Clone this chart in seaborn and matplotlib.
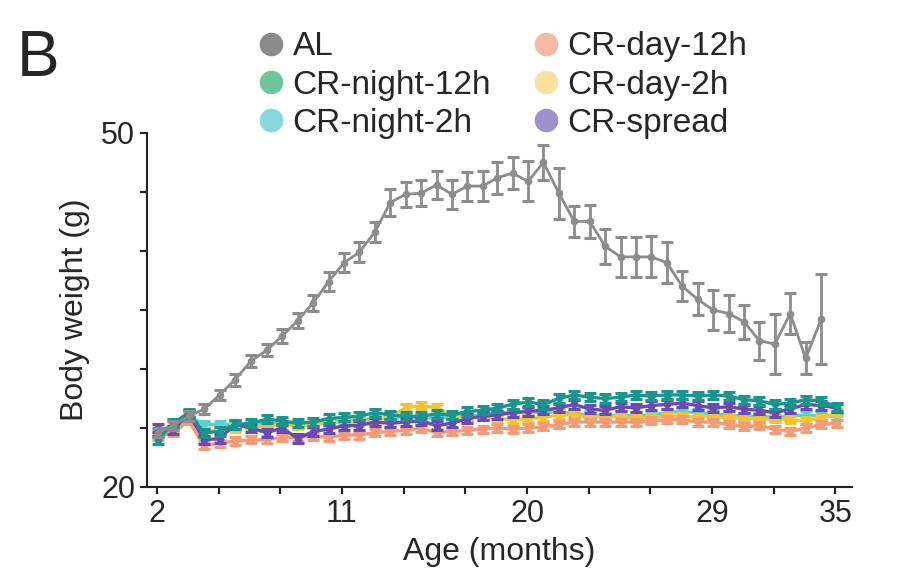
import matplotlib
matplotlib.use('Agg')
import matplotlib.pyplot as plt
from matplotlib.lines import Line2D
import seaborn as sns
import pandas as pd

# ages (months) of each weighing
ages = [2.05, 2.8, 3.55, 4.3, 5.05, 5.8, 6.6, 7.35, 8.1, 8.85, 9.6, 10.35, 11.1, 11.85,
        12.6, 13.35, 14.1, 14.85, 15.6, 16.35, 17.1, 17.85, 18.55, 19.3, 20.05, 20.8,
        21.55, 22.3, 23.05, 23.8, 24.55, 25.3, 26.05, 26.8, 27.55, 28.3, 29.05, 29.8,
        30.55, 31.3, 32.05, 32.8, 33.55, 34.3, 35.05]

# mean body weight (g); AL has no value at the last age
al = [24.6, 25.2, 26.0, 26.6, 27.8, 29.1, 30.7, 31.6, 32.8, 34.1, 35.6, 37.4, 39.0, 39.9,
      41.6, 44.1, 44.8, 44.9, 45.6, 44.8, 45.5, 45.5, 46.2, 46.6, 45.9, 47.5, 44.9, 42.5,
      42.5, 40.4, 39.5, 39.5, 39.5, 39.0, 37.0, 35.9, 35.0, 34.7, 34.0, 32.4, 32.1, 34.7,
      30.9, 34.2]
al_sem = [0.4, 0.4, 0.4, 0.45, 0.45, 0.5, 0.52, 0.54, 0.56, 0.61, 0.68, 0.8, 0.82, 0.85,
          0.82, 1.13, 1.04, 1.13, 1.16, 1.2, 1.23, 1.27, 1.37, 1.37, 1.69, 1.48, 2.15, 1.3,
          1.41, 1.47, 1.72, 1.72, 1.74, 1.72, 1.27, 1.35, 1.72, 1.6, 1.44, 1.6, 2.54, 1.74,
          1.35, 3.81]

night_12h = [24.0, 25.4, 26.3, 24.6, 24.7, 25.3, 25.4, 25.75, 25.6, 25.4, 25.5, 25.8, 25.9,
             26.0, 26.3, 26.1, 26.0, 26.0, 26.2, 26.1, 26.4, 26.5, 26.7, 27.0, 27.2, 27.0,
             27.5, 27.8, 27.6, 27.5, 27.6, 27.8, 27.7, 27.8, 27.8, 27.7, 27.8, 27.7, 27.4,
             27.3, 27.0, 27.1, 27.4, 27.3, 26.8]
night_2h = [24.6, 25.3, 26.0, 25.3, 25.3, 25.3, 25.3, 25.4, 25.4, 25.3, 25.4, 25.5, 25.6,
            25.7, 25.8, 25.8, 25.9, 25.8, 25.9, 25.9, 26.0, 26.1, 26.3, 26.3, 26.4, 26.3,
            26.4, 26.2, 26.1, 26.0, 26.1, 26.0, 26.1, 26.3, 26.4, 26.3, 26.2, 26.1, 26.0,
            26.0, 25.9, 26.0, 26.1, 26.0, 26.0]
day_12h = [24.3, 24.6, 25.6, 23.5, 23.7, 23.9, 24.0, 24.0, 24.2, 24.2, 24.3, 24.2, 24.4,
           24.4, 24.6, 24.7, 24.8, 25.0, 24.6, 24.7, 24.8, 24.9, 25.0, 24.9, 25.0, 25.1,
           25.3, 25.5, 25.5, 25.5, 25.5, 25.5, 25.6, 25.7, 25.7, 25.5, 25.5, 25.3, 25.1,
           25.2, 24.9, 24.7, 25.0, 25.3, 25.4]
day_2h = [24.4, 25.0, 25.7, 24.7, 24.8, 25.0, 25.2, 25.1, 25.3, 25.2, 25.3, 25.4, 25.5,
          25.5, 25.6, 26.0, 26.7, 26.9, 26.7, 26.0, 25.9, 26.0, 25.8, 25.7, 25.8, 25.9,
          26.1, 26.1, 25.9, 26.0, 25.9, 25.8, 25.9, 26.0, 26.0, 25.9, 26.0, 25.8, 25.9,
          25.7, 25.8, 25.7, 25.6, 25.8, 26.3]
spread = [25.0, 24.85, 26.2, 24.0, 24.1, 25.3, 25.0, 24.6, 25.0, 24.1, 24.7, 24.9, 25.2,
          25.2, 25.5, 25.4, 25.5, 25.6, 25.2, 25.4, 25.8, 26.0, 26.1, 26.3, 26.4, 26.5,
          26.7, 27.0, 26.6, 26.5, 26.8, 26.7, 26.9, 27.0, 27.1, 26.9, 26.7, 26.8, 26.6,
          26.5, 26.3, 26.6, 27.0, 26.9, 26.7]
cr_sem = {'CR-night-12h': 0.35, 'CR-night-2h': 0.3, 'CR-day-12h': 0.3,
          'CR-day-2h': 0.3, 'CR-spread': 0.35}

groups = ['AL', 'CR-night-12h', 'CR-night-2h', 'CR-day-12h', 'CR-day-2h', 'CR-spread']
line_colors = ['#8c8c8c', '#17968f', '#5ccfd2', '#f59a74', '#f2c530', '#6a4ab3']
legend_colors = ['#8a8a8a', '#6cc4a0', '#86d8dc', '#f7b9a3', '#fbe0a0', '#9f92cc']

x_ticks = [2, 5, 8, 11, 14, 17, 20, 23, 26, 29, 32, 35]
x_labels = ['2', '', '', '11', '', '', '20', '', '', '29', '', '35']
y_ticks = [20, 25, 30, 35, 40, 45, 50]
y_labels = ['20', '', '', '', '', '', '50']

sns.set_theme(style='ticks')
plt.rcParams['font.family'] = ['Liberation Sans', 'DejaVu Sans']

series = {'CR-night-12h': night_12h, 'CR-night-2h': night_2h, 'CR-day-12h': day_12h,
          'CR-day-2h': day_2h, 'CR-spread': spread}
rows = []
for a, w, s in zip(ages, al, al_sem):
    rows.append({'age': a, 'weight': w, 'sem': s, 'group': 'AL'})
for g, vals in series.items():
    for a, w in zip(ages, vals):
        rows.append({'age': a, 'weight': w, 'sem': cr_sem[g], 'group': g})
df = pd.DataFrame(rows)

fig = plt.figure(figsize=(9.22, 5.83), dpi=100)
ax = fig.add_axes([0.1594, 0.1647, 0.7646, 0.6072])

palette = dict(zip(groups, line_colors))
draw_order = ['CR-night-2h', 'CR-day-2h', 'CR-day-12h', 'CR-spread', 'CR-night-12h', 'AL']
for g in draw_order:
    sub = df[df['group'] == g]
    lw = 2 if g == 'AL' else 2.4
    ax.errorbar(sub['age'], sub['weight'], yerr=sub['sem'], fmt='none',
                ecolor=palette[g], elinewidth=2, capsize=4, capthick=2.2)
    sns.lineplot(data=sub, x='age', y='weight', color=palette[g], marker='o',
                 markersize=5.5, markeredgewidth=0, linewidth=lw, ax=ax, legend=False)

ax.set_xlim(1.52, 35.8)
ax.set_ylim(20, 50)
ax.set_xticks(x_ticks)
ax.set_xticklabels(x_labels)
ax.set_yticks(y_ticks)
ax.set_yticklabels(y_labels)
ax.set_xlabel('Age (months)', fontsize=23, labelpad=6)
ax.set_ylabel('Body weight (g)', fontsize=23, labelpad=8)
ax.tick_params(direction='out', length=5, width=1.5, labelsize=22, color='#222222')
for side in ['top', 'right']:
    ax.spines[side].set_visible(False)
for side in ['left', 'bottom']:
    ax.spines[side].set_linewidth(1.5)
    ax.spines[side].set_color('#222222')

handles = [Line2D([], [], marker='o', linestyle='', markersize=17, color=c,
                  markeredgewidth=0) for c in legend_colors]
fig.legend(handles, groups, loc='upper left', bbox_to_anchor=(0.263, 0.975), ncol=2,
           frameon=False, fontsize=24, borderpad=0, handlelength=0.7,
           handletextpad=0.3, labelspacing=0.22, columnspacing=1.3)

fig.text(0.018, 0.87, 'B', fontsize=46)

fig.savefig('out.png', dpi=100)
plt.close(fig)
